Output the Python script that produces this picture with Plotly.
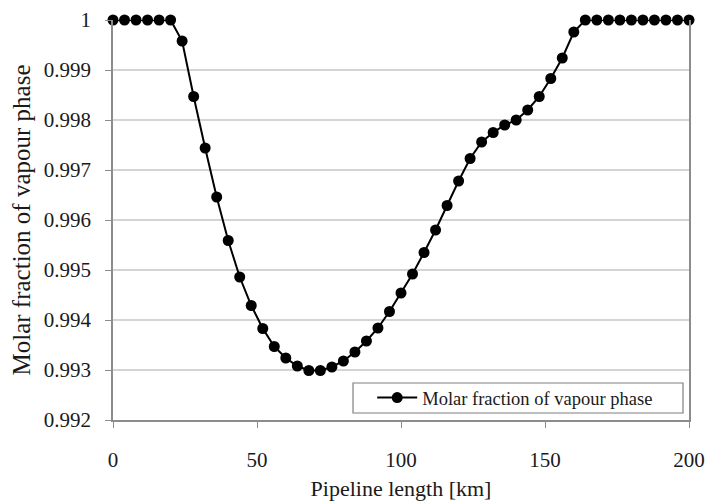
import plotly.graph_objects as go

pipeline_km = [0, 4, 8, 12, 16, 20, 24, 28, 32, 36, 40, 44, 48, 52, 56, 60, 64, 68, 72, 76,
               80, 84, 88, 92, 96, 100, 104, 108, 112, 116, 120, 124, 128, 132, 136, 140,
               144, 148, 152, 156, 160, 164, 168, 172, 176, 180, 184, 188, 192, 196, 200]
vapour_fraction = [1.0, 1.0, 1.0, 1.0, 1.0, 1.0, 0.99958, 0.99847, 0.99744, 0.99646,
                   0.99559, 0.99486, 0.99429, 0.99383, 0.99347, 0.99324, 0.99308, 0.99299,
                   0.99299, 0.99306, 0.99318, 0.99336, 0.99358, 0.99384, 0.99417, 0.99454,
                   0.99492, 0.99535, 0.99580, 0.99629, 0.99678, 0.99723, 0.99756, 0.99775,
                   0.99790, 0.99800, 0.99820, 0.99847, 0.99883, 0.99924, 0.99976, 1.0, 1.0,
                   1.0, 1.0, 1.0, 1.0, 1.0, 1.0, 1.0, 1.0]
x_ticks = [0, 50, 100, 150, 200]
y_ticks = [0.992, 0.993, 0.994, 0.995, 0.996, 0.997, 0.998, 0.999, 1.0]
y_tick_text = ["0.992", "0.993", "0.994", "0.995", "0.996", "0.997", "0.998", "0.999", "1"]

FONT = "Liberation Serif"
TXT = "#1a1a1a"

fig = go.Figure()
fig.add_trace(go.Scatter(
    x=pipeline_km, y=vapour_fraction, mode="lines+markers",
    name="Molar fraction of vapour phase",
    line=dict(color="black", width=2),
    marker=dict(color="black", size=11),
    cliponaxis=False,
))

# legend frame
fig.add_shape(type="rect", xref="paper", yref="paper",
              x0=0.4167, x1=0.9896, y0=0.0175, y1=0.0925,
              line=dict(color="#7f7f7f", width=1.2), fillcolor="white", layer="below")

# the page body has an 8px margin, so the figure is sized to fit the window
fig.update_layout(
    width=716, height=493,
    margin=dict(l=105, r=35, t=12, b=81),
    paper_bgcolor="white", plot_bgcolor="white",
    font=dict(family=FONT, color=TXT, size=21),
    showlegend=True,
    legend=dict(
        x=0.45, y=0.055, xanchor="left", yanchor="middle",
        borderwidth=0, bgcolor="rgba(0,0,0,0)",
        font=dict(family=FONT, size=18.5, color=TXT),
        itemwidth=40,
    ),
    xaxis=dict(
        range=[0, 200], tickvals=x_ticks, showgrid=False, zeroline=False,
        showline=True, linecolor="#8c8c8c", linewidth=1.5,
        ticks="outside", ticklen=6, tickcolor="#8c8c8c",
        ticklabelstandoff=14, automargin=False,
        tickfont=dict(family=FONT, size=21, color=TXT),
        title=dict(text="Pipeline length [km]", font=dict(family=FONT, size=22, color=TXT), standoff=10),
    ),
    yaxis=dict(
        range=[0.992, 1.0], tickvals=y_ticks, ticktext=y_tick_text,
        showgrid=True, gridcolor="#d4d4d4", gridwidth=1.5, zeroline=False,
        showline=True, linecolor="#8c8c8c", linewidth=1.5, mirror=True,
        ticks="outside", ticklen=6, tickcolor="#8c8c8c",
        ticklabelstandoff=10, automargin=False,
        tickfont=dict(family=FONT, size=21, color=TXT),
        title=dict(text="Molar fraction of vapour phase", font=dict(family=FONT, size=25, color=TXT), standoff=12),
    ),
)

fig.write_html("out.html")
